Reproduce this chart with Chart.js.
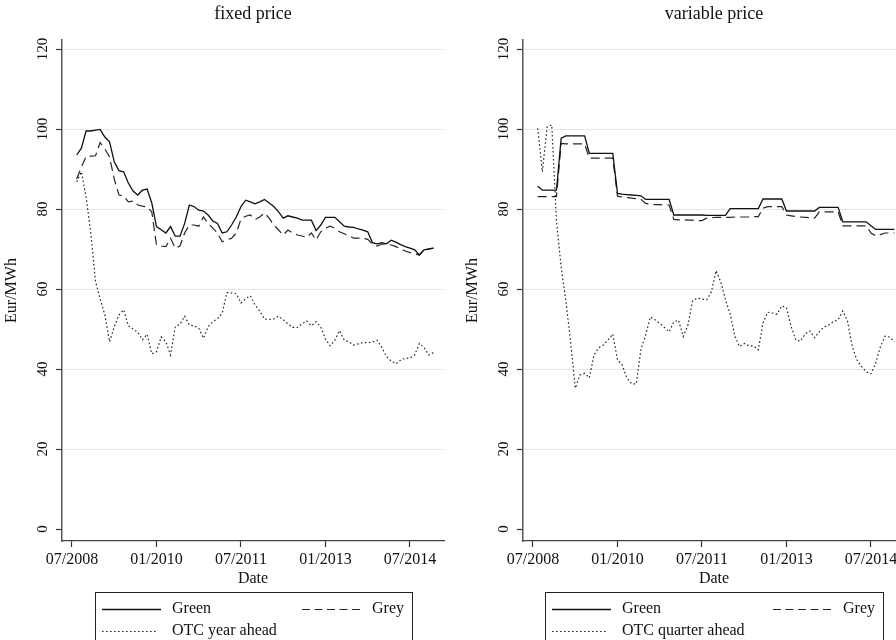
<!DOCTYPE html>
<html><head><meta charset="utf-8">
<script src="https://cdn.jsdelivr.net/npm/chart.js@4/dist/chart.umd.min.js"></script>
<style>
html,body{margin:0;padding:0;background:#fff;overflow:hidden;width:896px;height:640px;}
.panel{position:absolute;top:0;}
</style></head><body>
<div class="panel" style="left:0"><canvas id="c1" width="461" height="640"></canvas></div>
<div class="panel" style="left:461px"><canvas id="c2" width="461" height="640"></canvas></div>
<script>
// ---- data (monthly, 08/2008 .. 12/2014) ----
const firstMonth = '08/2008';
const tickLabels = ['07/2008', '01/2010', '07/2011', '01/2013', '07/2014'];
const yTicks = [0, 20, 40, 60, 80, 100, 120];

const greenFixed = [
  93.5, 95.2, 99.5, 99.5, 99.7, 99.9, 98, 96.8, 91.8, 89.6,
  89.3, 86.5, 84.5, 83.5, 84.7, 85, 81.5, 75.6, 74.8, 74,
  75.6, 73.2, 73.2, 76.4, 81, 80.6, 79.7, 79.5, 78.5, 77,
  76.4, 74, 74.3, 76, 78, 80.6, 82.2, 81.8, 81.3, 81.8,
  82.4, 81.5, 80.6, 79.3, 77.7, 78.3, 78, 77.7, 77.2, 77.2,
  77.2, 74.6, 76, 77.9, 77.9, 77.9, 76.8, 75.7, 75.5, 75.4,
  75, 74.7, 74.3, 71.6, 71.3, 71.6, 71.3, 72.2, 71.7, 71.1,
  70.6, 70.2, 69.8, 68.5, 69.8, 70, 70.2];
const greyFixed = [
  87.5, 90.5, 93.1, 93.2, 93.3, 96.6, 95, 93, 87.5, 83.5,
  83.3, 81.8, 82, 81, 80.7, 80.5, 79.3, 71, 70.75, 70.6,
  72.7, 70.2, 70.75, 74, 76, 76, 75.7, 78, 76.4, 75.2,
  74, 71.8, 72.3, 72.7, 74, 77.5, 78.2, 78.5, 77.4, 78,
  79, 77.7, 76, 74.75, 73.5, 74.75, 74, 73.5, 73.25, 72.9,
  74, 72.25, 74.3, 75.2, 75.7, 75.2, 74.3, 73.8, 73.3, 72.7,
  72.7, 72.7, 72.4, 71.25, 70.75, 71.25, 71.2, 71, 70.6, 70,
  69.5, 69.1, 68.8, 68.5, 69.75, 70, 70.2];
const otcYearAhead = [
  86.8, 89.3, 83, 74, 62, 57.5, 53.5, 46.8, 50.5, 53.5,
  54.8, 50.8, 50, 49.2, 47.3, 48.7, 43.8, 44.3, 48, 46.8,
  43.5, 50.5, 51.2, 53.2, 51, 50.8, 50.2, 47.7, 50.6, 51.8,
  52.6, 54, 59.1, 59, 58.8, 56.5, 57.6, 58.3, 56, 54.5,
  52.5, 52.4, 52.5, 53.2, 52.3, 51.3, 50.4, 50.4, 51.3, 52,
  50.8, 51.8, 50.5, 47.5, 45.8, 47.2, 49.6, 47.2, 46.8, 46,
  46.3, 46.6, 46.6, 46.7, 47.2, 45.4, 43.1, 42, 41.3, 42.2,
  42.7, 42.7, 43.5, 46.4, 45.4, 43.5, 44.1];

const greenVariable = [
  85.7, 84.7, 84.7, 84.7, 84.7, 97.7, 98.3, 98.3, 98.3, 98.3,
  98.3, 93.9, 93.9, 93.9, 93.9, 93.9, 93.9, 83.9, 83.7, 83.6,
  83.5, 83.4, 83.3, 82.4, 82.4, 82.4, 82.4, 82.4, 82.4, 78.5,
  78.5, 78.5, 78.5, 78.5, 78.5, 78.5, 78.4, 78.4, 78.4, 78.4,
  78.4, 80.1, 80.1, 80.1, 80.1, 80.1, 80.1, 80.1, 82.5, 82.5,
  82.5, 82.5, 82.5, 79.5, 79.5, 79.5, 79.5, 79.5, 79.5, 79.5,
  80.4, 80.4, 80.4, 80.4, 80.4, 76.8, 76.8, 76.8, 76.8, 76.8,
  76.8, 75.8, 74.9, 74.9, 74.9, 74.9, 74.9];
const greyVariable = [
  83.1, 83.1, 83.1, 83.1, 83.1, 96.4, 96.3, 96.3, 96.3, 96.3,
  96.25, 92.7, 92.7, 92.7, 92.7, 92.7, 92.7, 83.2, 83.0, 82.9,
  82.7, 82.6, 82.4, 81.4, 81.2, 81.1, 81.1, 81, 81, 77.4,
  77.3, 77.3, 77.2, 77.2, 77.1, 77.1, 77.7, 77.8, 77.9, 77.9,
  77.9, 77.9, 78, 78, 78, 78, 78.1, 78.1, 80.2, 80.6,
  80.6, 80.6, 80.6, 78.5, 78.3, 78.1, 78, 77.9, 77.8, 77.7,
  79.3, 79.3, 79.3, 79.3, 79.3, 75.8, 75.8, 75.8, 75.8, 75.8,
  75.8, 74, 73.3, 73.6, 74, 74, 74];
const otcQuarterAhead = [
  100.2, 89.3, 100.5, 101, 77, 65.5, 57, 47, 35.2, 38.5,
  38.9, 37.8, 43.5, 45.3, 46, 47.25, 48.75, 42.3, 41, 37.8,
  36.3, 36.3, 45, 48.5, 53, 52.3, 51.4, 50.4, 49.3, 51.8,
  52.2, 48.1, 51, 57, 57.7, 57.5, 57.3, 59.3, 64.6, 61.8,
  57.3, 53.8, 48.2, 45.6, 46.4, 45.8, 45.8, 44.8, 51.5, 54.2,
  54, 53.7, 55.8, 55.3, 50.6, 47.2, 47, 48.8, 49.5, 47.8,
  49.3, 50.5, 51, 51.8, 52.3, 54.5, 52, 45.6, 42.3, 40.6,
  39.3, 38.8, 41.5, 45.5, 48.2, 48, 46.8];

// ---- helpers ----
function monthIndex(label) { const p = label.split('/').map(Number); return (p[1] - 2008) * 12 + (p[0] - 7); }
const tickPos = tickLabels.map(monthIndex);
const startIdx = monthIndex(firstMonth);
function pts(values) { return values.map((v, i) => ({ x: startIdx + i, y: v })); }

Chart.defaults.font.family = '"Liberation Serif", "Times New Roman", serif';
Chart.defaults.color = '#111';

const styles = {
  green: { borderColor: '#111', borderWidth: 1.3, borderDash: [], legendDash: [] },
  grey:  { borderColor: '#262626', borderWidth: 1.2, borderDash: [9, 5], legendDash: [8, 4.5] },
  otc:   { borderColor: '#262626', borderWidth: 1.2, borderDash: [1.6, 2.4], legendDash: [1.6, 2.4] }
};

const decor = {
  id: 'decor',
  afterDraw(chart, args, opts) {
    const ctx = chart.ctx, ca = chart.chartArea;
    const cx = (ca.left + ca.right) / 2;
    ctx.save();
    ctx.fillStyle = '#111';
    ctx.textBaseline = 'middle';
    ctx.textAlign = 'center';
    ctx.font = '18px "Liberation Serif"';
    ctx.fillText(opts.title, cx, 14);
    // legend
    const bw = opts.legendWidth, bl = Math.round(cx - bw / 2), br = bl + bw, bt = 592;
    ctx.strokeStyle = '#222'; ctx.lineWidth = 1;
    ctx.strokeRect(bl + 0.5, bt + 0.5, bw, 70);
    const ds = chart.data.datasets;
    const sample = (d, x1, x2, y) => {
      ctx.save(); ctx.strokeStyle = d.borderColor; ctx.lineWidth = d.borderWidth;
      ctx.setLineDash(d.legendDash); ctx.beginPath(); ctx.moveTo(x1, y); ctx.lineTo(x2, y); ctx.stroke(); ctx.restore();
    };
    ctx.font = '16px "Liberation Serif"';
    ctx.textAlign = 'left';
    sample(ds[0], bl + 7, bl + 66, 609.5);
    ctx.fillText(ds[0].label, bl + 77, 609);
    sample(ds[1], br - 110, br - 50, 609.5);
    ctx.fillText(ds[1].label, br - 40, 609);
    sample(ds[2], bl + 7, bl + 62, 631.5);
    ctx.fillText(ds[2].label, bl + 77, 631);
    ctx.restore();
  }
};

function makeChart(id, title, legendWidth, series) {
  const datasets = series.map(s => Object.assign({
    label: s.label, data: pts(s.values), pointRadius: 0, tension: 0, fill: false
  }, styles[s.style]));
  return new Chart(document.getElementById(id), {
    type: 'line',
    data: { datasets },
    plugins: [decor],
    options: {
      responsive: false, animation: false, devicePixelRatio: 1,
      layout: { padding: { left: 0, right: 17, top: 40, bottom: 0 } },
      plugins: { legend: { display: false }, tooltip: { enabled: false }, decor: { title, legendWidth } },
      scales: {
        x: {
          type: 'linear', min: -2.13, max: 79.25,
          afterBuildTicks: (s) => { s.ticks = tickPos.map(v => ({ value: v })); },
          afterFit: (s) => { s.height = 99; },
          ticks: { autoSkip: false, maxRotation: 0, minRotation: 0, padding: 3,
            font: { size: 16 }, color: '#111',
            callback: (v) => { const i = tickPos.indexOf(v); return i >= 0 ? tickLabels[i] : ''; } },
          grid: { drawOnChartArea: false, drawTicks: true, tickLength: 6, tickColor: '#333', tickWidth: 1.2 },
          border: { display: true, color: '#444', width: 1.3 },
          title: { display: true, text: 'Date', font: { size: 16 }, color: '#111', padding: { top: 0, bottom: 51.4 } }
        },
        y: {
          type: 'linear', min: -3, max: 122.25,
          afterBuildTicks: (s) => { s.ticks = yTicks.map(v => ({ value: v })); },
          afterFit: (s) => { s.width = 62; },
          ticks: { minRotation: 90, maxRotation: 90, crossAlign: 'center', padding: 2,
            font: { size: 15 }, color: '#111', callback: (v) => String(v) },
          grid: { drawTicks: true, tickLength: 6, tickColor: '#333', tickWidth: 1.2, lineWidth: 1,
            color: (c) => (c.tick && c.tick.value === 0) ? 'rgba(0,0,0,0)' : '#e6e6e6' },
          border: { display: true, color: '#555', width: 1.5 },
          title: { display: true, text: 'Eur/MWh', font: { size: 16 }, color: '#111', padding: { top: 2, bottom: 0 } }
        }
      }
    }
  });
}

makeChart('c1', 'fixed price', 317, [
  { label: 'Green', values: greenFixed, style: 'green' },
  { label: 'Grey', values: greyFixed, style: 'grey' },
  { label: 'OTC year ahead', values: otcYearAhead, style: 'otc' }
]);
makeChart('c2', 'variable price', 338, [
  { label: 'Green', values: greenVariable, style: 'green' },
  { label: 'Grey', values: greyVariable, style: 'grey' },
  { label: 'OTC quarter ahead', values: otcQuarterAhead, style: 'otc' }
]);
</script></body></html>
